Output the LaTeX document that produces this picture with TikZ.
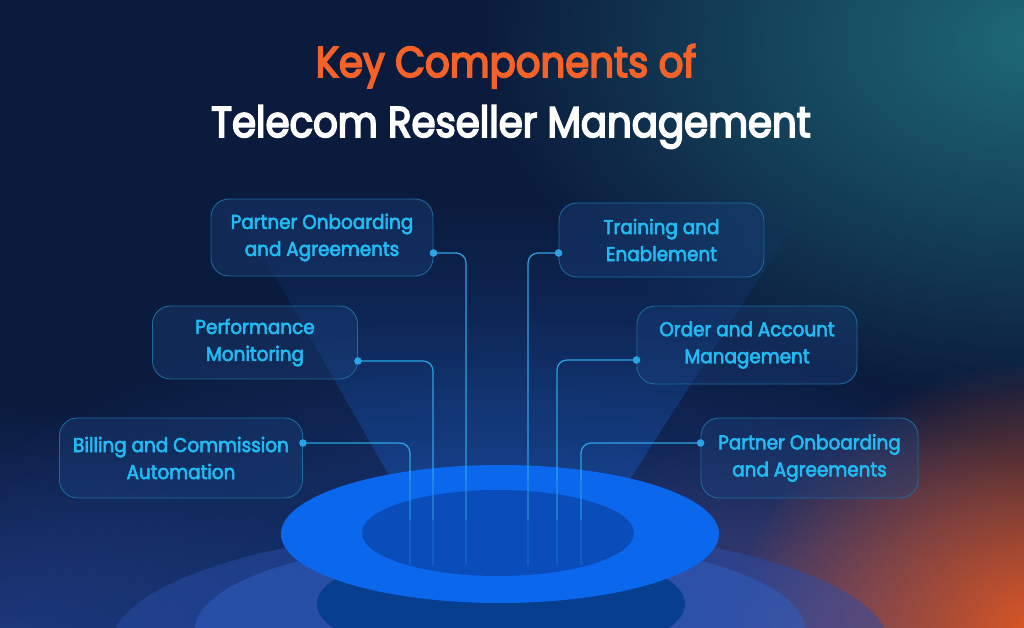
\documentclass[tikz,border=0pt]{standalone}
\usepackage{fontspec}
\setmainfont{Poppins}
\newfontfamily\titlefont[FakeStretch=0.9, FakeBold=4]{Poppins}
\newfontfamily\boxfont[FakeStretch=0.92, FakeBold=3]{Poppins}
\usetikzlibrary{fadings}
\tikzfading[name=glowfade, inner color=transparent!0, outer color=transparent!100]
\definecolor{bgnavy}{HTML}{0B1B3D}
\definecolor{tealglow}{HTML}{1F6E7C}
\definecolor{orangeglow}{HTML}{E85A22}
\definecolor{violetglow}{HTML}{6A4C80}
\definecolor{blueglow}{HTML}{1E4596}
\definecolor{titleorange}{HTML}{F4622A}
\definecolor{cyantext}{HTML}{22BAF2}
\definecolor{boxborder}{HTML}{1E6A9C}
\definecolor{boxfill}{HTML}{1C4482}
\definecolor{connc}{HTML}{2AA4E4}
\definecolor{beamblue}{HTML}{1B5CC0}
\definecolor{ringblue}{HTML}{0B67EC}
\definecolor{innerblue}{HTML}{0A4DBA}
\definecolor{discblue}{HTML}{073E8E}
\definecolor{haloA}{HTML}{2A4CA6}
\definecolor{haloB}{HTML}{2F60C4}
\tikzset{
  compbox/.style={draw=boxborder, line width=0.9pt, fill=boxfill, fill opacity=0.35,
    text opacity=1, rounded corners=18pt, text=cyantext, align=center,
    font=\boxfont\fontsize{20}{27}\selectfont, inner sep=0pt},
  conn/.style={draw=connc, line width=1.2pt, rounded corners=10pt},
  dotc/.style={fill=connc},
}
\begin{document}
\begin{tikzpicture}[x=1pt,y=-1pt]
\useasboundingbox (0,0) rectangle (1024,628);
% background
\fill[bgnavy] (0,0) rectangle (1024,628);
\fill[blueglow, path fading=glowfade, opacity=0.8] (500,640) ellipse (620 and 330);
\fill[tealglow, path fading=glowfade, opacity=0.95] (1040,40) ellipse (560 and 360);
\fill[violetglow, path fading=glowfade, opacity=0.6] (820,640) ellipse (330 and 230);
\fill[orangeglow, path fading=glowfade, opacity=1] (1050,640) ellipse (320 and 280);
\fill[haloA, path fading=glowfade, opacity=0.6] (0,660) ellipse (330 and 260);
% light beam
\fill[beamblue, path fading=north, opacity=0.42] (392,480) -- (232,200) -- (810,200) -- (630,480) -- cycle;
% platform
\fill[haloA, opacity=0.5] (500,648) ellipse (390 and 120);
\fill[haloB, opacity=0.5] (500,630) ellipse (305 and 92);
\fill[discblue] (501,604) ellipse (184 and 58);
\fill[ringblue] (500,534) ellipse (219 and 69);
\fill[innerblue] (498,533) ellipse (136 and 43);
% boxes
\node[compbox, minimum width=222pt, minimum height=77pt] (b1) at (322,237.5) {Partner Onboarding\\and Agreements};
\node[compbox, minimum width=205pt, minimum height=73pt] (b2) at (255,342.5) {Performance\\Monitoring};
\node[compbox, minimum width=243pt, minimum height=80pt] (b3) at (181,458) {Billing and Commission\\Automation};
\node[compbox, minimum width=205pt, minimum height=74pt] (b4) at (661.5,240) {Training and\\Enablement};
\node[compbox, minimum width=220pt, minimum height=78pt] (b5) at (747,345) {Order and Account\\Management};
\node[compbox, minimum width=217pt, minimum height=80pt] (b6) at (809.5,458) {Partner Onboarding\\and Agreements};
% title
\node[font=\titlefont\fontsize{43}{50}\selectfont, text=titleorange, anchor=base] (t1) at (506,77) {Key Components of};
\node[font=\titlefont\fontsize{43}{50}\selectfont, text=white, anchor=base] (t2) at (511,137) {Telecom Reseller Management};
% connector anchor points
\coordinate (p1) at ([yshift=-15.5pt]b1.east);
\coordinate (p2) at ([yshift=-18.5pt]b2.east);
\coordinate (p3) at ([yshift=15pt]b3.east);
\coordinate (p4) at ([yshift=-13pt]b4.west);
\coordinate (p5) at ([yshift=-15pt]b5.west);
\coordinate (p6) at ([yshift=15pt]b6.west);
\coordinate (c1) at (466,480); \coordinate (d1) at (466,520); \coordinate (e1) at (466,565);
\coordinate (c2) at (433,480); \coordinate (d2) at (433,520); \coordinate (e2) at (433,565);
\coordinate (c3) at (410,480); \coordinate (d3) at (410,520); \coordinate (e3) at (410,565);
\coordinate (c4) at (528,480); \coordinate (d4) at (528,520); \coordinate (e4) at (528,565);
\coordinate (c5) at (557,480); \coordinate (d5) at (557,520); \coordinate (e5) at (557,565);
\coordinate (c6) at (581,480); \coordinate (d6) at (581,520); \coordinate (e6) at (581,565);
\foreach \i in {1,...,6}{
  \draw[conn] (p\i) -| (c\i);
  \draw[conn, opacity=0.5] (c\i) -- (d\i);
  \draw[conn, opacity=0.2] (d\i) -- (e\i);
  \fill[dotc] (p\i) circle (3.8);
}
\end{tikzpicture}
\end{document}
